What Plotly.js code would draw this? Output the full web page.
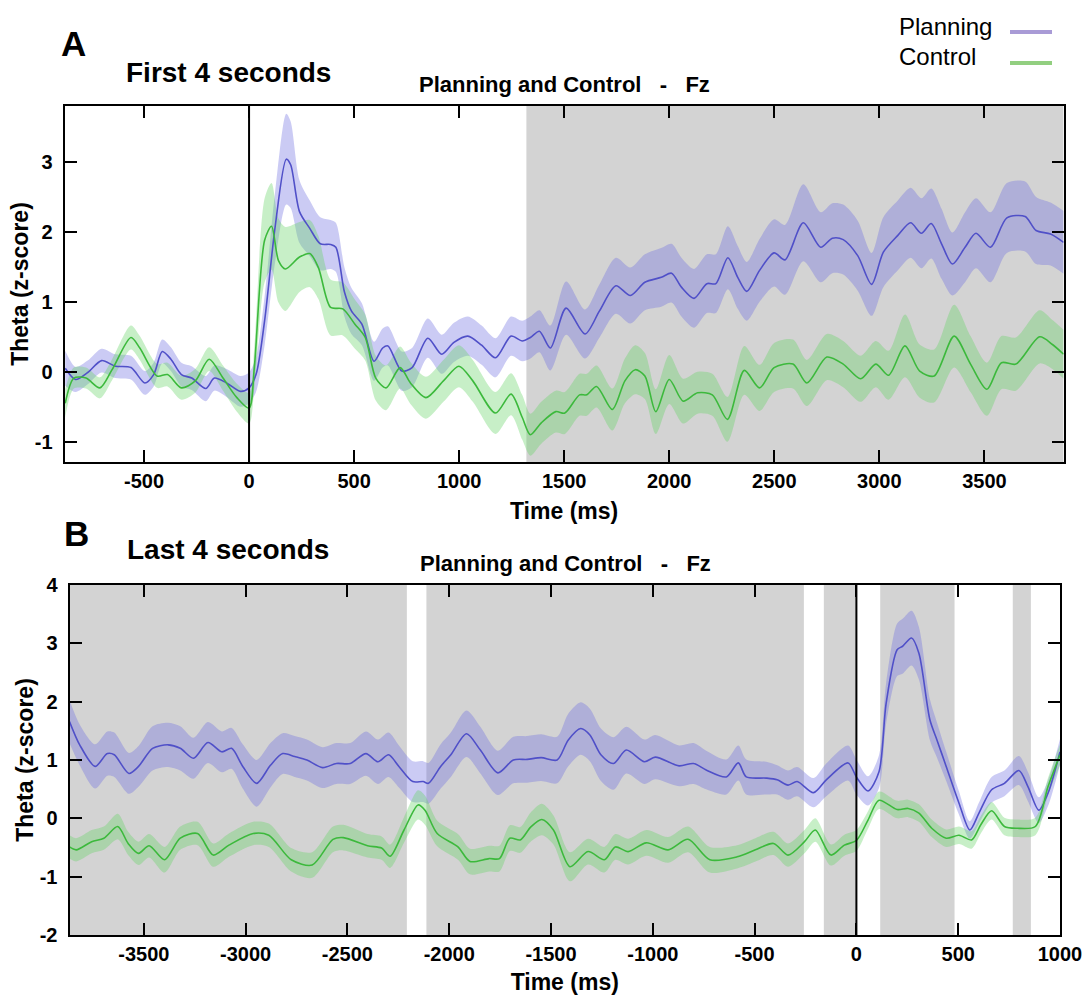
<!DOCTYPE html>
<html>
<head>
<meta charset="utf-8">
<script src="https://cdn.plot.ly/plotly-3.0.1.min.js"></script>
<style>html,body{margin:0;padding:0;background:#fff;}#chart{width:1090px;height:1001px;}</style>
</head>
<body>
<div id="chart"></div>
<script>
// ---------- Panel A: first 4 seconds ----------
const tA_plan = [-875,-826,-768,-702,-636,-562,-496,-454,-413,-372,-322,-273,-206,-165,-107,-41,0,33,74,124,177,198,240,289,339,388,413,454,487,537,595,636,661,727,776,851,917,975,1041,1107,1173,1247,1300,1339,1382,1434,1509,1599,1668,1746,1815,1884,1962,2011,2058,2118,2179,2222,2279,2326,2369,2430,2499,2551,2638,2721,2776,2828,2897,2963,3019,3088,3149,3200,3247,3296,3348,3408,3460,3529,3607,3694,3746,3815,3877];
const mA_plan = [0.05,-0.11,-0.01,0.16,0.08,0.06,-0.16,-0.04,0.29,0.18,-0.04,-0.09,-0.24,-0.09,-0.16,-0.28,-0.23,-0.04,0.73,2.07,3.04,2.96,2.29,2.05,1.83,1.82,1.78,1.14,0.87,0.68,0.15,0.34,0.37,0.01,0.06,0.48,0.25,0.42,0.51,0.38,0.20,0.51,0.44,0.49,0.58,0.34,0.91,0.54,0.87,1.23,1.09,1.28,1.35,1.41,1.21,1.05,1.26,1.26,1.63,1.35,1.15,1.45,1.70,1.60,2.13,1.78,1.91,1.89,1.66,1.25,1.71,1.95,2.13,1.98,2.12,1.83,1.54,1.78,1.98,1.78,2.20,2.22,2.02,1.97,1.85];
const sA_plan = [0.25,0.18,0.17,0.17,0.17,0.17,0.17,0.17,0.17,0.17,0.17,0.17,0.18,0.18,0.20,0.22,0.22,0.25,0.35,0.50,0.65,0.62,0.45,0.40,0.38,0.35,0.35,0.35,0.33,0.30,0.28,0.28,0.28,0.28,0.28,0.28,0.28,0.28,0.28,0.28,0.28,0.28,0.29,0.30,0.30,0.32,0.38,0.35,0.38,0.40,0.40,0.40,0.42,0.42,0.42,0.42,0.42,0.42,0.45,0.45,0.42,0.45,0.48,0.50,0.55,0.50,0.50,0.50,0.50,0.45,0.50,0.50,0.50,0.50,0.50,0.50,0.45,0.50,0.50,0.50,0.50,0.50,0.48,0.45,0.45];

const tA_ctrl = [-875,-834,-776,-710,-652,-562,-520,-438,-388,-322,-256,-190,-124,-58,0,25,74,107,140,173,240,289,330,388,446,504,553,603,652,719,768,842,925,999,1065,1173,1247,1300,1339,1391,1460,1503,1573,1607,1654,1729,1789,1838,1884,1936,2000,2066,2135,2205,2277,2357,2430,2499,2589,2655,2750,2828,2911,2983,3044,3122,3192,3261,3356,3434,3512,3581,3650,3763,3824,3877];
const mA_ctrl = [-0.45,-0.09,-0.09,-0.23,0.03,0.49,0.34,-0.06,-0.04,-0.23,-0.13,0.18,-0.09,-0.37,-0.52,0.06,1.88,2.08,1.59,1.47,1.64,1.69,1.49,0.92,0.90,0.68,0.49,-0.09,-0.23,0.06,-0.16,-0.37,-0.13,0.08,-0.13,-0.59,-0.32,-0.65,-0.90,-0.73,-0.57,-0.59,-0.33,-0.33,-0.21,-0.54,-0.13,0.03,-0.06,-0.57,-0.11,-0.42,-0.30,-0.33,-0.68,0.02,-0.23,0.06,0.11,-0.16,0.21,0.11,-0.10,0.11,-0.05,0.37,0.01,-0.06,0.51,0.11,-0.25,0.13,0.11,0.50,0.39,0.25];
const sA_ctrl = [0.20,0.15,0.15,0.15,0.15,0.17,0.17,0.17,0.17,0.17,0.17,0.17,0.18,0.20,0.22,0.30,0.60,0.62,0.60,0.60,0.50,0.48,0.45,0.40,0.38,0.35,0.33,0.32,0.32,0.30,0.30,0.30,0.30,0.30,0.30,0.30,0.30,0.32,0.30,0.30,0.30,0.30,0.30,0.30,0.30,0.30,0.32,0.35,0.33,0.32,0.35,0.32,0.30,0.30,0.32,0.35,0.33,0.35,0.35,0.33,0.33,0.33,0.33,0.33,0.35,0.45,0.38,0.38,0.45,0.40,0.38,0.38,0.38,0.38,0.35,0.35];

const shadeA = [[1320, 3877]];
const ticksA_x = [-500,0,500,1000,1500,2000,2500,3000,3500];
const ticksA_y = [-1,0,1,2,3];

// ---------- Panel B: last 4 seconds ----------
const tB_plan = [-3865,-3815,-3739,-3679,-3645,-3573,-3526,-3457,-3381,-3321,-3256,-3185,-3117,-3069,-3014,-2946,-2878,-2818,-2759,-2699,-2622,-2554,-2486,-2409,-2350,-2298,-2247,-2179,-2128,-2102,-2042,-1992,-1915,-1847,-1761,-1685,-1617,-1548,-1470,-1416,-1354,-1309,-1255,-1193,-1130,-1041,-988,-871,-800,-738,-639,-580,-541,-443,-389,-336,-291,-211,-148,-41,0,57,111,146,200,227,271,307,361,396,441,504,557,602,664,727,798,843,896,941,1000];
const mB_plan = [1.66,1.26,0.89,1.11,1.09,0.77,0.89,1.20,1.26,1.20,1.03,1.30,1.14,1.20,0.89,0.60,0.91,1.11,1.06,1.00,0.87,0.94,0.94,1.11,0.97,1.09,0.89,0.63,0.63,0.60,0.89,1.09,1.45,1.17,0.78,1.00,1.01,1.04,1.00,1.34,1.54,1.43,1.09,0.94,1.17,0.97,1.05,0.90,0.94,0.83,0.71,0.95,0.71,0.69,0.66,0.57,0.63,0.44,0.66,0.95,0.71,0.47,0.80,1.97,2.89,2.95,3.09,2.83,1.69,1.34,0.89,0.26,-0.20,0.09,0.49,0.60,0.82,0.54,0.14,0.43,1.14];
const sB_plan = [0.37,0.35,0.38,0.38,0.38,0.35,0.35,0.38,0.38,0.38,0.35,0.35,0.35,0.35,0.38,0.40,0.38,0.35,0.35,0.35,0.35,0.35,0.35,0.38,0.38,0.38,0.36,0.35,0.35,0.35,0.38,0.38,0.40,0.40,0.38,0.40,0.40,0.40,0.40,0.45,0.45,0.45,0.45,0.45,0.40,0.38,0.38,0.35,0.35,0.33,0.30,0.30,0.30,0.28,0.25,0.25,0.25,0.25,0.28,0.30,0.30,0.25,0.28,0.35,0.45,0.47,0.47,0.45,0.35,0.30,0.25,0.20,0.15,0.18,0.22,0.22,0.25,0.25,0.22,0.22,0.22];

const tB_ctrl = [-3865,-3832,-3756,-3696,-3628,-3577,-3526,-3474,-3398,-3321,-3236,-3159,-3082,-2963,-2886,-2776,-2673,-2571,-2520,-2401,-2332,-2290,-2222,-2153,-2119,-2059,-1957,-1898,-1804,-1753,-1702,-1651,-1600,-1545,-1488,-1407,-1318,-1238,-1184,-1121,-1032,-925,-827,-720,-586,-496,-407,-336,-255,-202,-125,-59,0,57,111,200,254,307,370,441,504,566,611,664,727,789,879,941,1000];
const mB_ctrl = [-0.49,-0.54,-0.40,-0.34,-0.14,-0.43,-0.60,-0.47,-0.71,-0.34,-0.26,-0.63,-0.46,-0.26,-0.29,-0.71,-0.80,-0.36,-0.33,-0.47,-0.51,-0.65,-0.20,0.23,0.14,-0.26,-0.49,-0.74,-0.69,-0.69,-0.34,-0.37,-0.15,-0.02,-0.20,-0.83,-0.57,-0.71,-0.49,-0.57,-0.42,-0.54,-0.36,-0.71,-0.66,-0.54,-0.43,-0.63,-0.40,-0.20,-0.63,-0.46,-0.38,-0.03,0.31,0.15,0.17,0.09,-0.17,-0.34,-0.29,-0.37,-0.11,0.13,-0.14,-0.17,-0.14,0.54,1.09];
const sB_ctrl = [0.20,0.20,0.20,0.20,0.22,0.20,0.20,0.20,0.22,0.20,0.20,0.20,0.20,0.20,0.20,0.20,0.22,0.22,0.22,0.20,0.20,0.20,0.22,0.25,0.25,0.22,0.22,0.22,0.22,0.22,0.22,0.22,0.25,0.27,0.25,0.25,0.22,0.22,0.22,0.22,0.22,0.22,0.22,0.22,0.20,0.20,0.20,0.20,0.20,0.20,0.18,0.18,0.18,0.15,0.15,0.15,0.15,0.15,0.15,0.15,0.15,0.15,0.15,0.15,0.15,0.15,0.15,0.15,0.18];

const shadeB = [[-3865,-2208],[-2112,-258],[-160,0],[117,482],[768,857]];
const ticksB_x = [-3500,-3000,-2500,-2000,-1500,-1000,-500,0,500,1000];
const ticksB_y = [-2,-1,0,1,2,3,4];

const seriesNames = ['Planning','Control'];

// ---------- styling ----------
const planLine = 'rgb(80,80,200)';
const planFill = 'rgba(110,110,225,0.36)';
const ctrlLine = 'rgb(60,185,60)';
const ctrlFill = 'rgba(100,210,100,0.36)';
const FONT = 'Liberation Sans, Arial, Helvetica, sans-serif';

function band(t, m, s, fill, xa, ya) {
  const lo = m.map((v,i)=>v - s[i]);
  const hi = m.map((v,i)=>v + s[i]);
  return [
    {x:t, y:lo, xaxis:xa, yaxis:ya, mode:'lines', line:{width:0, shape:'spline', smoothing:0.8}, hoverinfo:'skip', showlegend:false},
    {x:t, y:hi, xaxis:xa, yaxis:ya, mode:'lines', line:{width:0, shape:'spline', smoothing:0.8}, fill:'tonexty', fillcolor:fill, hoverinfo:'skip', showlegend:false}
  ];
}
function meanLine(t, m, color, name, xa, ya) {
  return {x:t, y:m, xaxis:xa, yaxis:ya, mode:'lines', name:name, line:{color:color, width:1.6, shape:'spline', smoothing:0.8}, showlegend:false};
}

const data = [].concat(
  band(tA_plan, mA_plan, sA_plan, planFill, 'x', 'y'),
  band(tA_ctrl, mA_ctrl, sA_ctrl, ctrlFill, 'x', 'y'),
  [meanLine(tA_plan, mA_plan, planLine, seriesNames[0], 'x', 'y'),
   meanLine(tA_ctrl, mA_ctrl, ctrlLine, seriesNames[1], 'x', 'y')],
  band(tB_plan, mB_plan, sB_plan, planFill, 'x2', 'y2'),
  band(tB_ctrl, mB_ctrl, sB_ctrl, ctrlFill, 'x2', 'y2'),
  [meanLine(tB_plan, mB_plan, planLine, seriesNames[0], 'x2', 'y2'),
   meanLine(tB_ctrl, mB_ctrl, ctrlLine, seriesNames[1], 'x2', 'y2')]
);

const W = 1090, H = 1001;
const px = v => v / W;
const py = v => 1 - v / H;
const lbl = arr => arr.map(v => String(v));   // plain hyphen-minus labels

function axisBase(extra) {
  return Object.assign({
    ticks:'inside', ticklen:12, tickwidth:2, tickcolor:'#000',
    showline:true, linewidth:2, linecolor:'#000', mirror:'ticks',
    showgrid:false, zeroline:false,
    tickfont:{family:FONT, size:20, weight:'bold', color:'#000'}
  }, extra);
}

const shapes = [];
shadeA.forEach(r => shapes.push({type:'rect', xref:'x', yref:'y domain', x0:r[0], x1:r[1], y0:0, y1:1, fillcolor:'#d3d3d3', line:{width:0}, layer:'below'}));
shadeB.forEach(r => shapes.push({type:'rect', xref:'x2', yref:'y2 domain', x0:r[0], x1:r[1], y0:0, y1:1, fillcolor:'#d3d3d3', line:{width:0}, layer:'below'}));
shapes.push({type:'line', xref:'x', yref:'y domain', x0:0, x1:0, y0:0, y1:1, line:{color:'#000', width:2}});
shapes.push({type:'line', xref:'x2', yref:'y2 domain', x0:0, x1:0, y0:0, y1:1, line:{color:'#000', width:2}});
// legend samples
shapes.push({type:'line', xref:'paper', yref:'paper', x0:px(1010), x1:px(1052), y0:py(32), y1:py(32), line:{color:'#a99bd6', width:4}});
shapes.push({type:'line', xref:'paper', yref:'paper', x0:px(1010), x1:px(1052), y0:py(63), y1:py(63), line:{color:'#92cf80', width:4}});

const titleTxt = 'Planning and Control\u00a0\u00a0\u00a0-\u00a0\u00a0\u00a0Fz';
const annotations = [
  {text:'A', x:px(59), y:py(44), xanchor:'left', yanchor:'middle', font:{family:FONT, size:35, weight:'bold', color:'#000'}},
  {text:'First 4 seconds', x:px(124), y:py(72), xanchor:'left', yanchor:'middle', font:{family:FONT, size:28, weight:'bold', color:'#000'}},
  {text:titleTxt, x:px(564), y:py(84), xanchor:'center', yanchor:'middle', font:{family:FONT, size:22, weight:'bold', color:'#000'}},
  {text:'B', x:px(62), y:py(533), xanchor:'left', yanchor:'middle', font:{family:FONT, size:35, weight:'bold', color:'#000'}},
  {text:'Last 4 seconds', x:px(125), y:py(549), xanchor:'left', yanchor:'middle', font:{family:FONT, size:28, weight:'bold', color:'#000'}},
  {text:titleTxt, x:px(565), y:py(563), xanchor:'center', yanchor:'middle', font:{family:FONT, size:22, weight:'bold', color:'#000'}},
  {text:seriesNames[0], x:px(897), y:py(27), xanchor:'left', yanchor:'middle', font:{family:FONT, size:24, color:'#000'}},
  {text:seriesNames[1], x:px(897), y:py(57), xanchor:'left', yanchor:'middle', font:{family:FONT, size:24, color:'#000'}}
].map(a => Object.assign({xref:'paper', yref:'paper', showarrow:false}, a));

const layout = {
  width:W, height:H,
  margin:{l:0, r:0, t:0, b:0},
  paper_bgcolor:'#fff', plot_bgcolor:'#fff',
  showlegend:false,
  font:{family:FONT, color:'#000'},
  xaxis: axisBase({domain:[px(64.6), px(1063.6)], range:[-878, 3877], tickvals:ticksA_x, ticktext:lbl(ticksA_x), anchor:'y', ticklabelstandoff:0,
    title:{text:'Time (ms)', font:{family:FONT, size:23, weight:'bold'}, standoff:12}}),
  yaxis: axisBase({domain:[py(462), py(106)], range:[-1.29, 3.80], tickvals:ticksA_y, ticktext:lbl(ticksA_y), anchor:'x', ticklabelstandoff:6,
    title:{text:'Theta (z-score)', font:{family:FONT, size:23, weight:'bold'}, standoff:0}}),
  xaxis2: axisBase({domain:[px(69.5), px(1060)], range:[-3865, 1000], tickvals:ticksB_x, ticktext:lbl(ticksB_x), anchor:'y2', ticklabelstandoff:0,
    title:{text:'Time (ms)', font:{family:FONT, size:23, weight:'bold'}, standoff:10}}),
  yaxis2: axisBase({domain:[py(935), py(585)], range:[-2, 4], tickvals:ticksB_y, ticktext:lbl(ticksB_y), anchor:'x2', ticklabelstandoff:6,
    title:{text:'Theta (z-score)', font:{family:FONT, size:23, weight:'bold'}, standoff:0}}),
  shapes: shapes,
  annotations: annotations
};

Plotly.newPlot('chart', data, layout, {displayModeBar:false, staticPlot:true});
</script>
</body>
</html>
